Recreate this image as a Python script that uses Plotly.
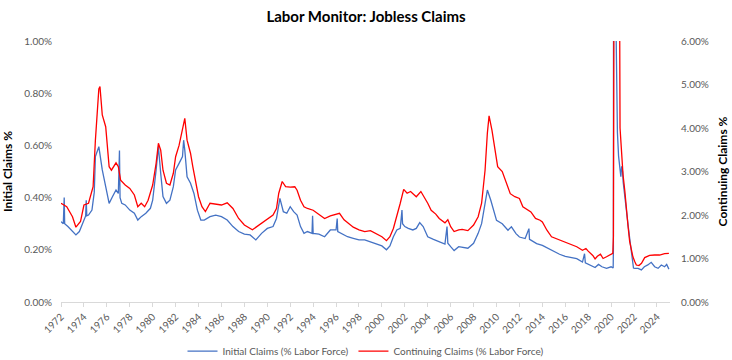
import pandas as pd
import plotly.graph_objects as go

# ---- Data ----
init_years = [1972.0, 1972.2, 1972.28, 1972.32, 1972.6, 1973.0, 1973.3, 1973.6, 1974.0, 1974.15, 1974.2, 1974.25,
              1974.4, 1974.7, 1974.9, 1975.0, 1975.3, 1975.6, 1975.9, 1976.2, 1976.5, 1976.8, 1977.0, 1977.1,
              1977.15, 1977.3, 1977.6, 1978.0, 1978.4, 1978.7, 1979.0, 1979.4, 1979.8, 1980.0, 1980.3, 1980.5,
              1980.7, 1980.9, 1981.2, 1981.5, 1981.8, 1982.0, 1982.3, 1982.6, 1982.7, 1982.8, 1983.0, 1983.3,
              1983.6, 1983.9, 1984.2, 1984.5, 1985.0, 1985.5, 1986.0, 1986.5, 1987.0, 1987.5, 1988.0, 1988.5,
              1989.0, 1989.5, 1990.0, 1990.5, 1990.8, 1991.1, 1991.4, 1991.7, 1992.0, 1992.3, 1992.6, 1992.9,
              1993.2, 1993.5, 1993.9, 1993.95, 1994.0, 1994.5, 1995.0, 1995.5, 1996.0, 1996.1, 1996.15, 1996.5,
              1997.0, 1997.5, 1998.0, 1998.5, 1999.0, 1999.5, 2000.0, 2000.4, 2000.7, 2001.0, 2001.3, 2001.6,
              2001.75, 2001.8, 2002.0, 2002.3, 2002.7, 2003.0, 2003.3, 2003.6, 2004.0, 2004.5, 2005.0, 2005.5,
              2005.68, 2005.75, 2006.0, 2006.3, 2006.7, 2007.0, 2007.5, 2008.0, 2008.4, 2008.7, 2009.0, 2009.2,
              2009.5, 2009.8, 2010.0, 2010.5, 2011.0, 2011.3, 2011.7, 2012.0, 2012.5, 2012.83, 2012.88, 2013.0,
              2013.5, 2014.0, 2014.5, 2015.0, 2015.5, 2016.0, 2016.5, 2017.0, 2017.5, 2017.68, 2017.75, 2018.1,
              2018.6, 2018.9, 2019.2, 2019.6, 2020.0, 2020.18, 2020.2, 2020.22, 2020.24, 2020.3, 2020.35, 2020.4,
              2020.45, 2020.55, 2020.65, 2020.72, 2020.78, 2020.85, 2020.92, 2021.0, 2021.05, 2021.2, 2021.33,
              2021.48, 2021.62, 2021.77, 2021.85, 2021.95, 2022.06, 2022.35, 2022.64, 2022.9, 2023.2, 2023.5,
              2023.8, 2024.1, 2024.38, 2024.67, 2024.85, 2025.04]
init_vals = [0.308, 0.30, 0.40, 0.30, 0.289, 0.27, 0.257, 0.27, 0.314, 0.33, 0.39, 0.33,
             0.333, 0.352, 0.42, 0.557, 0.595, 0.506, 0.442, 0.378, 0.404, 0.429, 0.416, 0.58,
             0.40, 0.378, 0.372, 0.352, 0.34, 0.314, 0.327, 0.34, 0.359, 0.39, 0.506, 0.595,
             0.493, 0.404, 0.378, 0.39, 0.442, 0.506, 0.531, 0.557, 0.62, 0.582, 0.48, 0.455,
             0.416, 0.352, 0.314, 0.314, 0.327, 0.333, 0.327, 0.314, 0.289, 0.27, 0.26, 0.257,
             0.238, 0.263, 0.282, 0.289, 0.32, 0.397, 0.346, 0.34, 0.365, 0.346, 0.333, 0.289,
             0.263, 0.27, 0.263, 0.33, 0.263, 0.26, 0.25, 0.276, 0.276, 0.32, 0.27, 0.263,
             0.25, 0.244, 0.238, 0.238, 0.231, 0.225, 0.215, 0.20, 0.215, 0.25, 0.276, 0.282,
             0.352, 0.30, 0.289, 0.282, 0.276, 0.282, 0.304, 0.289, 0.25, 0.24, 0.231, 0.222,
             0.289, 0.225, 0.212, 0.197, 0.212, 0.209, 0.206, 0.225, 0.263, 0.30, 0.378, 0.429,
             0.39, 0.346, 0.313, 0.30, 0.275, 0.288, 0.262, 0.249, 0.243, 0.281, 0.24, 0.237,
             0.224, 0.217, 0.205, 0.192, 0.183, 0.175, 0.17, 0.166, 0.153, 0.185, 0.15, 0.142,
             0.132, 0.144, 0.135, 0.129, 0.135, 0.13, 0.2, 2.0, 4.2, 2.6, 1.7, 1.15,
             0.92, 0.65, 0.56, 0.52, 0.49, 0.48, 0.52, 0.50, 0.46, 0.41, 0.346,
             0.295, 0.244, 0.193, 0.15, 0.13, 0.129, 0.129, 0.123, 0.135, 0.142, 0.152,
             0.135, 0.129, 0.142, 0.135, 0.144, 0.126]

cont_years = [1972.0, 1972.5, 1973.0, 1973.3, 1973.7, 1974.0, 1974.4, 1974.8, 1975.0, 1975.3, 1975.4, 1975.6,
              1975.9, 1976.2, 1976.4, 1976.8, 1977.0, 1977.2, 1977.6, 1978.0, 1978.4, 1978.7, 1979.0, 1979.3,
              1979.6, 1980.0, 1980.3, 1980.5, 1980.7, 1980.9, 1981.2, 1981.5, 1981.8, 1982.0, 1982.3, 1982.6,
              1982.8, 1983.0, 1983.3, 1983.5, 1983.8, 1984.0, 1984.3, 1984.6, 1985.0, 1985.5, 1986.0, 1986.5,
              1987.0, 1987.5, 1988.0, 1988.7, 1989.0, 1989.5, 1990.0, 1990.5, 1990.8, 1991.0, 1991.3, 1991.6,
              1992.0, 1992.4, 1992.6, 1992.9, 1993.2, 1993.5, 1994.0, 1994.5, 1995.0, 1995.5, 1996.0, 1996.3,
              1996.7, 1997.0, 1997.5, 1998.0, 1998.5, 1999.0, 1999.5, 2000.0, 2000.4, 2000.7, 2001.0, 2001.3,
              2001.6, 2001.9, 2002.2, 2002.5, 2002.8, 2003.0, 2003.4, 2003.7, 2004.0, 2004.3, 2004.7, 2005.0,
              2005.5, 2005.75, 2006.0, 2006.3, 2006.7, 2007.0, 2007.5, 2008.0, 2008.4, 2008.7, 2009.0, 2009.2,
              2009.35, 2009.6, 2009.9, 2010.1, 2010.5, 2010.9, 2011.2, 2011.6, 2012.0, 2012.3, 2012.7, 2013.0,
              2013.4, 2013.8, 2014.0, 2014.4, 2014.8, 2015.2, 2015.6, 2016.0, 2016.5, 2017.0, 2017.5, 2017.8,
              2018.0, 2018.4, 2018.6, 2018.8, 2019.07, 2019.3, 2019.6, 2019.9, 2020.15, 2020.2, 2020.25, 2020.3,
              2020.38, 2020.5, 2020.6, 2020.7, 2020.75, 2020.78, 2020.9, 2021.04, 2021.2, 2021.33, 2021.48, 2021.62,
              2021.77, 2021.9, 2022.06, 2022.2, 2022.43, 2022.65, 2022.93, 2023.36, 2023.8, 2024.23, 2024.67, 2025.04]
cont_vals = [2.27, 2.19, 1.96, 1.72, 1.85, 2.23, 2.27, 2.65, 3.72, 4.9, 4.95, 4.3,
             4.03, 3.11, 3.03, 3.2, 3.11, 2.80, 2.69, 2.61, 2.46, 2.19, 2.27, 2.19,
             2.34, 2.69, 3.19, 3.65, 3.49, 3.03, 2.73, 2.69, 2.96, 3.34, 3.6, 3.95,
             4.22, 3.72, 3.42, 3.11, 2.73, 2.42, 2.19, 2.08, 2.27, 2.25, 2.23, 2.28,
             2.15, 1.92, 1.77, 1.66, 1.72, 1.81, 1.91, 2.0, 2.15, 2.5, 2.77, 2.65,
             2.64, 2.65, 2.57, 2.34, 2.19, 2.15, 2.11, 2.02, 1.92, 1.98, 2.02, 2.04,
             1.89, 1.82, 1.72, 1.66, 1.62, 1.64, 1.56, 1.50, 1.41, 1.50, 1.69, 1.96,
             2.27, 2.59, 2.5, 2.54, 2.46, 2.42, 2.54, 2.42, 2.27, 2.11, 2.02, 1.92,
             1.82, 1.89, 1.73, 1.62, 1.66, 1.67, 1.64, 1.77, 1.96, 2.27, 3.03, 3.88,
             4.28, 3.95, 3.49, 3.11, 3.0, 2.72, 2.49, 2.42, 2.38, 2.19, 2.11, 2.07,
             1.92, 1.88, 1.84, 1.65, 1.50, 1.46, 1.42, 1.38, 1.33, 1.27, 1.19, 1.23,
             1.17, 1.07, 0.99, 1.05, 1.1, 1.0, 1.04, 1.08, 1.12, 1.5, 8.0, 13.0,
             15.0, 11.5, 9.0, 7.2, 6.3, 4.0, 3.38, 2.92, 2.54, 2.08, 1.73, 1.39,
             1.2, 1.04, 0.93, 0.85, 0.84, 0.89, 1.02, 1.07, 1.08, 1.08, 1.11, 1.12]

left_ticks = [0.0, 0.2, 0.4, 0.6, 0.8, 1.0]
left_labels = ["0.00%", "0.20%", "0.40%", "0.60%", "0.80%", "1.00%"]
right_ticks = [0, 1, 2, 3, 4, 5, 6]
right_labels = ["0.00%", "1.00%", "2.00%", "3.00%", "4.00%", "5.00%", "6.00%"]


def to_dates(years):
    out = []
    for y in years:
        yi = int(y)
        start = pd.Timestamp(year=yi, month=1, day=1)
        out.append(start + pd.Timedelta(days=(y - yi) * 365.25))
    return out


FONT = "Lato"
GRAY = "#595959"

fig = go.Figure()
fig.add_trace(go.Scatter(x=to_dates(init_years), y=init_vals, mode="lines",
                         name="Initial Claims (% Labor Force)",
                         line=dict(color="#4472C4", width=1.3), yaxis="y"))
fig.add_trace(go.Scatter(x=to_dates(cont_years), y=cont_vals, mode="lines",
                         name="Continuing Claims (% Labor Force)",
                         line=dict(color="#FF0000", width=1.3), yaxis="y2"))

fig.update_layout(
    width=732, height=360,
    margin=dict(l=61, r=62, t=41, b=58, autoexpand=False),
    paper_bgcolor="white", plot_bgcolor="white",
    font=dict(family=FONT, size=10, color=GRAY),
    title=dict(text="<b>Labor Monitor: Jobless Claims</b>", x=0.5, xanchor="center",
               y=1 - 17 / 360, yanchor="middle", font=dict(family=FONT, size=15, color="black")),
    showlegend=True,
    legend=dict(orientation="h", x=0.5, xanchor="center", y=-0.188, yanchor="middle",
                font=dict(family=FONT, size=10, color=GRAY), bgcolor="rgba(0,0,0,0)"),
    xaxis=dict(type="date", range=[pd.Timestamp("1972-01-01"), pd.Timestamp("2025-02-20")],
               tick0="1972-01-01", dtick="M24", tickformat="%Y", tickangle=-45,
               showgrid=False, showline=True, linecolor="#D9D9D9", linewidth=1,
               ticks="outside", ticklen=4, tickcolor="#D9D9D9", zeroline=False,
               tickfont=dict(size=10, color=GRAY)),
    yaxis=dict(range=[0, 1], tickmode="array", tickvals=left_ticks, ticktext=left_labels,
               showgrid=False, zeroline=False, ticklabelstandoff=8,
               title=dict(text="<b>Initial Claims %</b>", font=dict(family=FONT, size=12, color="black"),
                          standoff=10)),
    yaxis2=dict(range=[0, 6], tickmode="array", tickvals=right_ticks, ticktext=right_labels,
                overlaying="y", side="right", showgrid=False, zeroline=False, ticklabelstandoff=10,
                title=dict(text="<b>Continuing Claims %</b>", font=dict(family=FONT, size=12, color="black"),
                           standoff=10)),
)

fig.write_html("out.html", config={"displayModeBar": False},
               post_script="document.body.style.margin='0';document.body.style.padding='0';")
